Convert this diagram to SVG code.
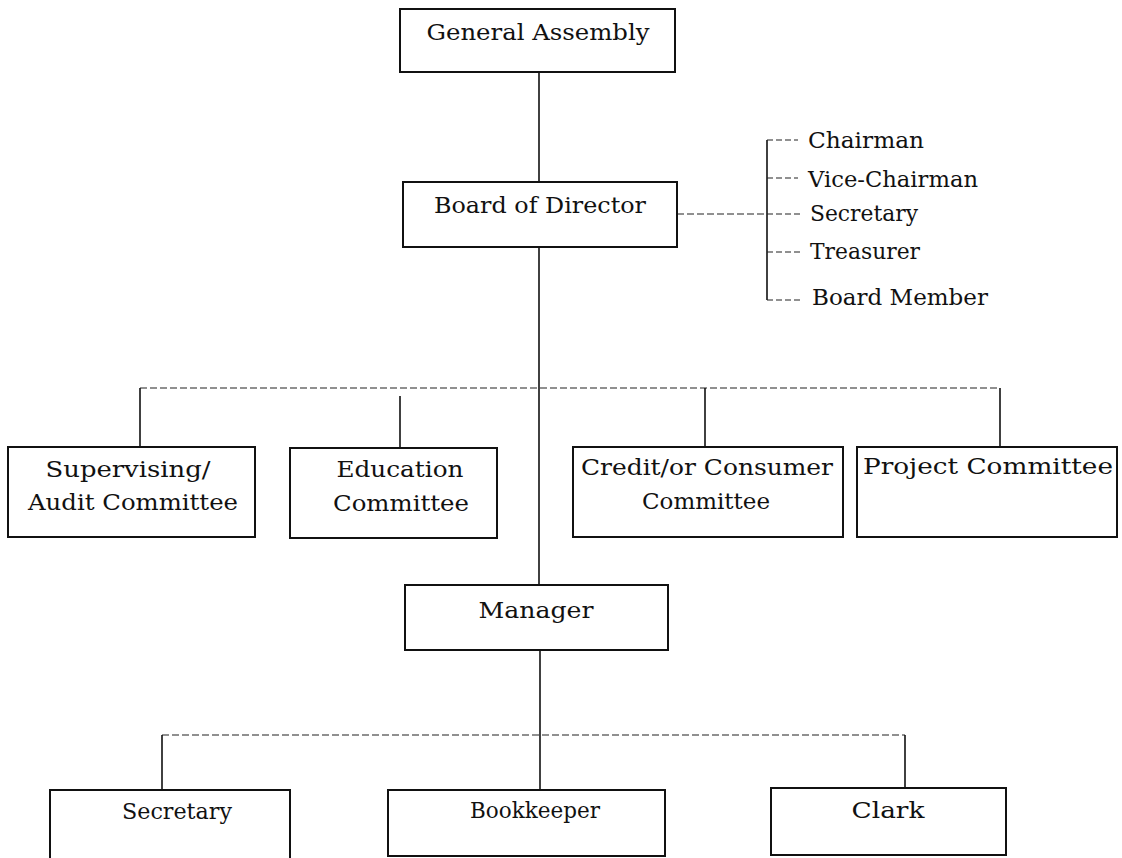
<svg xmlns="http://www.w3.org/2000/svg" width="1122" height="858" viewBox="0 0 1122 858">
<style>
.box{fill:#fff;stroke:#111;stroke-width:2}
.lbl{font-family:"DejaVu Serif","Liberation Serif",serif;font-size:23px;fill:#111;text-anchor:middle}
.item{font-family:"DejaVu Serif","Liberation Serif",serif;font-size:23px;fill:#111}
.solid{stroke:#111;stroke-width:1.6;fill:none}
.dash{stroke:#222;stroke-width:1.2;fill:none;stroke-dasharray:7 3}
.tick{stroke:#222;stroke-width:1.2;fill:none;stroke-dasharray:6 3}
</style>
<rect width="1122" height="858" fill="#fff"/>
<g id="connectors">
<line class="solid" x1="539" y1="72" x2="539" y2="182"/>
<line class="dash" x1="677" y1="214" x2="767" y2="214"/>
<line class="solid" x1="767" y1="140" x2="767" y2="300"/>
<line class="tick" x1="767" y1="140" x2="798" y2="140"/>
<line class="tick" x1="767" y1="178" x2="798" y2="178"/>
<line class="tick" x1="767" y1="214" x2="800" y2="214"/>
<line class="tick" x1="767" y1="252" x2="800" y2="252"/>
<line class="tick" x1="767" y1="300" x2="800" y2="300"/>
<line class="solid" x1="539" y1="247" x2="539" y2="585"/>
<line class="dash" x1="140" y1="388" x2="1000" y2="388"/>
<line class="solid" x1="140" y1="388" x2="140" y2="447"/>
<line class="solid" x1="400" y1="396" x2="400" y2="448"/>
<line class="solid" x1="705" y1="388" x2="705" y2="447"/>
<line class="solid" x1="1000" y1="388" x2="1000" y2="447"/>
<line class="solid" x1="540" y1="650" x2="540" y2="790"/>
<line class="dash" x1="162" y1="735" x2="905" y2="735"/>
<line class="solid" x1="162" y1="735" x2="162" y2="790"/>
<line class="solid" x1="905" y1="735" x2="905" y2="788"/>
</g>
<g id="general-assembly">
<rect class="box" x="400" y="9" width="275" height="63"/>
<text class="lbl" x="538" y="40" textLength="223" lengthAdjust="spacingAndGlyphs">General Assembly</text>
</g>
<g id="board-of-director">
<rect class="box" x="403" y="182" width="274" height="65"/>
<text class="lbl" x="540" y="213" textLength="212" lengthAdjust="spacingAndGlyphs">Board of Director</text>
</g>
<g id="board-roles">
<text class="item" x="808" y="148" textLength="116" lengthAdjust="spacingAndGlyphs">Chairman</text>
<text class="item" x="808" y="187" textLength="170" lengthAdjust="spacingAndGlyphs">Vice-Chairman</text>
<text class="item" x="810" y="221" textLength="108" lengthAdjust="spacingAndGlyphs">Secretary</text>
<text class="item" x="810" y="259" textLength="110" lengthAdjust="spacingAndGlyphs">Treasurer</text>
<text class="item" x="812" y="305" textLength="176" lengthAdjust="spacingAndGlyphs">Board Member</text>
</g>
<g id="supervising-audit">
<rect class="box" x="8" y="447" width="247" height="90"/>
<text class="lbl" x="128" y="477" textLength="165" lengthAdjust="spacingAndGlyphs">Supervising/</text>
<text class="lbl" x="133" y="510" textLength="210" lengthAdjust="spacingAndGlyphs">Audit Committee</text>
</g>
<g id="education">
<rect class="box" x="290" y="448" width="207" height="90"/>
<text class="lbl" x="400" y="477" textLength="127" lengthAdjust="spacingAndGlyphs">Education</text>
<text class="lbl" x="401" y="511" textLength="136" lengthAdjust="spacingAndGlyphs">Committee</text>
</g>
<g id="credit-consumer">
<rect class="box" x="573" y="447" width="270" height="90"/>
<text class="lbl" x="707" y="475" textLength="252" lengthAdjust="spacingAndGlyphs">Credit/or Consumer</text>
<text class="lbl" x="706" y="509" textLength="128" lengthAdjust="spacingAndGlyphs">Committee</text>
</g>
<g id="project">
<rect class="box" x="857" y="447" width="260" height="90"/>
<text class="lbl" x="988" y="474" textLength="250" lengthAdjust="spacingAndGlyphs">Project Committee</text>
</g>
<g id="manager">
<rect class="box" x="405" y="585" width="263" height="65"/>
<text class="lbl" x="536" y="618" textLength="115" lengthAdjust="spacingAndGlyphs">Manager</text>
</g>
<g id="secretary">
<rect class="box" x="50" y="790" width="240" height="72"/>
<text class="lbl" x="177" y="819" textLength="110" lengthAdjust="spacingAndGlyphs">Secretary</text>
</g>
<g id="bookkeeper">
<rect class="box" x="388" y="790" width="277" height="66"/>
<text class="lbl" x="535" y="818" textLength="130" lengthAdjust="spacingAndGlyphs">Bookkeeper</text>
</g>
<g id="clark">
<rect class="box" x="771" y="788" width="235" height="67"/>
<text class="lbl" x="888" y="818" textLength="73" lengthAdjust="spacingAndGlyphs">Clark</text>
</g>
</svg>
